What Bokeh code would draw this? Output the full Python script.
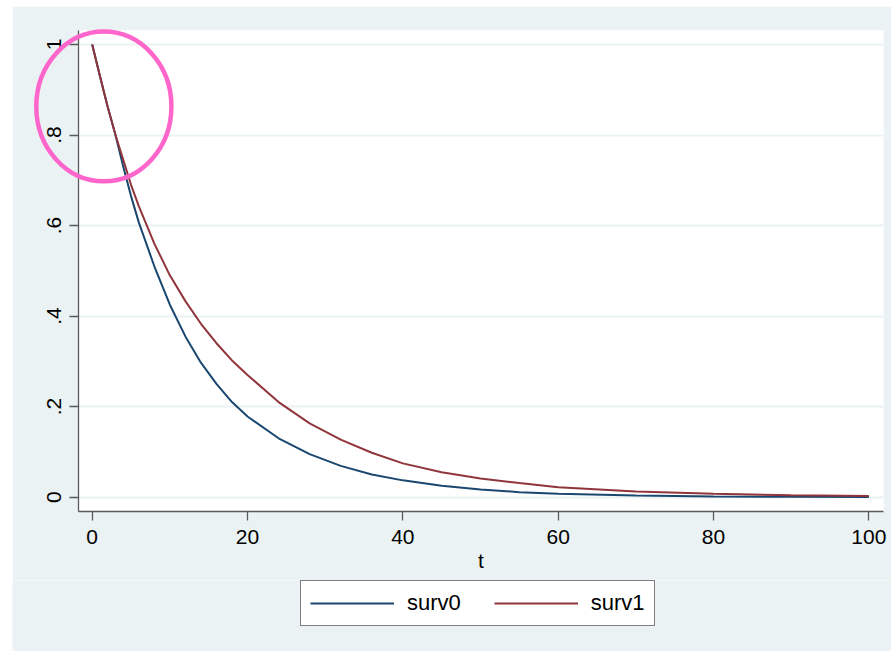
from bokeh.plotting import figure
from bokeh.models import Legend, LegendItem, Range1d, FixedTicker, Spacer
from bokeh.layouts import column, row
from bokeh.embed import file_html
from bokeh.resources import INLINE

# ---- data ----
t = [0, 1, 2, 3, 4, 5, 6, 8, 10, 12, 14, 16, 18, 20, 24, 28, 32, 36, 40,
     45, 50, 55, 60, 70, 80, 90, 100]
surv0 = [1.000, 0.930, 0.862, 0.800, 0.730, 0.665, 0.607, 0.510, 0.425, 0.355,
         0.297, 0.250, 0.210, 0.178, 0.130, 0.095, 0.069, 0.050, 0.037,
         0.025, 0.017, 0.011, 0.0075, 0.0035, 0.0016, 0.0007, 0.0003]
surv1 = [1.000, 0.930, 0.862, 0.800, 0.745, 0.690, 0.643, 0.560, 0.490, 0.433,
         0.383, 0.340, 0.302, 0.270, 0.210, 0.163, 0.127, 0.098, 0.0745,
         0.055, 0.041, 0.031, 0.022, 0.0125, 0.0072, 0.0042, 0.0024]
series_names = ["surv0", "surv1"]
x_ticks = [0, 20, 40, 60, 80, 100]
y_ticks = [0, 0.2, 0.4, 0.6, 0.8, 1]
y_tick_labels = ["0", ".2", ".4", ".6", ".8", "1"]
x_label = "t"

# pink highlight ellipse (annotation)
ell_x, ell_y, ell_w, ell_h = 1.5, 0.863, 17.4, 0.331

FONT = "Liberation Sans"
BG = "#EAF2F3"
C0 = "#1A476F"
C1 = "#90353B"

# ---------------- main plot ----------------
p = figure(width=879, height=574, output_backend="svg", toolbar_location=None,
           x_range=Range1d(-1.764, 101.89), y_range=Range1d(-0.0318, 1.0309),
           min_border_left=66, min_border_right=8, min_border_top=24,
           min_border_bottom=69)
p.border_fill_color = BG
p.background_fill_color = "white"
p.outline_line_color = None

p.xgrid.visible = False
p.ygrid.grid_line_color = BG
p.ygrid.grid_line_width = 2
p.ygrid.ticker = FixedTicker(ticks=y_ticks)

for ax in (p.xaxis[0], p.yaxis[0]):
    ax.axis_line_color = "#5a5a5a"
    ax.axis_line_width = 1.3
    ax.major_tick_line_color = "#5a5a5a"
    ax.major_tick_line_width = 1.3
    ax.major_tick_out = 9
    ax.major_tick_in = 0
    ax.minor_tick_line_color = None
    ax.major_label_text_font = FONT
    ax.major_label_text_font_size = "21px"
    ax.major_label_text_color = "black"

p.xaxis.ticker = FixedTicker(ticks=x_ticks)
p.xaxis.major_label_standoff = 9
p.xaxis.axis_label = x_label
p.xaxis.axis_label_text_font = FONT
p.xaxis.axis_label_text_font_size = "21px"
p.xaxis.axis_label_text_font_style = "normal"
p.xaxis.axis_label_text_color = "black"
p.xaxis.axis_label_standoff = 2

p.yaxis.ticker = FixedTicker(ticks=y_ticks)
p.yaxis.major_label_overrides = {v: s for v, s in zip(y_ticks, y_tick_labels)}
p.yaxis.major_label_orientation = "vertical"
p.yaxis.major_label_standoff = 8

p.line(t, surv0, line_color=C0, line_width=2)
p.line(t, surv1, line_color=C1, line_width=2)

p.ellipse(x=[ell_x], y=[ell_y], width=[ell_w], height=[ell_h],
          fill_color=None, line_color="#FF66CC", line_width=4.5, level="overlay")

# ---------------- legend strip ----------------
pl = figure(width=879, height=71, output_backend="svg", toolbar_location=None,
            x_axis_type=None, y_axis_type=None, min_border=0,
            x_range=Range1d(0, 1), y_range=Range1d(0, 1))
pl.border_fill_color = BG
pl.background_fill_color = BG
pl.outline_line_color = None
pl.grid.visible = False
g0 = pl.line(t, surv0, line_color=C0, line_width=2, visible=False)
g1 = pl.line(t, surv1, line_color=C1, line_width=2, visible=False)

legend = Legend(items=[LegendItem(label=series_names[0], renderers=[g0]),
                       LegendItem(label=series_names[1], renderers=[g1])],
                orientation="horizontal", location=(288, 25),
                glyph_width=84, glyph_height=20, label_standoff=13,
                spacing=33, padding=9, margin=0,
                border_line_color="black", border_line_width=1,
                background_fill_color="white", background_fill_alpha=1,
                label_text_font=FONT, label_text_font_size="22px",
                label_text_color="black")
pl.add_layout(legend)

layout = column(Spacer(height=6), row(Spacer(width=12), p),
                row(Spacer(width=12), pl))
open("out.html", "w").write(file_html(layout, INLINE))
